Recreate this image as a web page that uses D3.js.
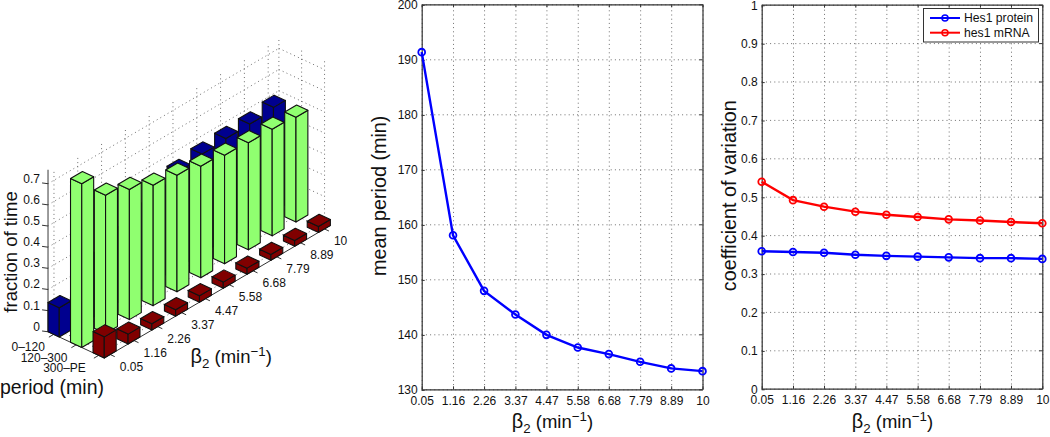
<!DOCTYPE html>
<html><head><meta charset="utf-8">
<script src="https://cdnjs.cloudflare.com/ajax/libs/d3/7.8.5/d3.min.js"></script>
<style>
html,body{margin:0;padding:0;background:#fff}
svg{display:block}
text{font-family:"Liberation Sans",Arial,sans-serif;fill:#111}
</style></head><body>
<svg id="c" width="1050" height="437"></svg>
<script>
// ---- data ----
const betaLabels = ["0.05","1.16","2.26","3.37","4.47","5.58","6.68","7.79","8.89","10"];
const periodLabels = ["0–120","120–300","300–PE"];
const blueFraction = [0.138,0.300,0.355,0.400,0.420,0.453,0.469,0.477,0.479,0.492];
const greenFraction = [0.774,0.654,0.615,0.569,0.551,0.527,0.513,0.506,0.504,0.495];
const redFraction = [0.100,0.047,0.030,0.030,0.030,0.029,0.029,0.028,0.028,0.028];
const fractionTicks = [0,0.1,0.2,0.3,0.4,0.5,0.6,0.7];
const meanPeriod = [191.3,158.0,147.9,143.6,139.9,137.6,136.4,135.0,133.8,133.3];
const periodTicks = [130,140,150,160,170,180,190,200];
const cvProtein = [0.358,0.356,0.354,0.349,0.346,0.344,0.342,0.340,0.340,0.338];
const cvMrna = [0.539,0.491,0.474,0.461,0.453,0.447,0.441,0.438,0.434,0.431];
const cvTicks = [0,0.1,0.2,0.3,0.4,0.5,0.6,0.7,0.8,0.9,1];
const barSeries = [blueFraction,greenFraction,redFraction];
const barColors = ["#00008f","#90ff70","#800000"];
const seriesNames = ["Hes1 protein","hes1 mRNA"];

const svg = d3.select("#c");
const AXIS="#333", DOT="#6e6e6e";

function betaLabel(g,x,y,size){
  const t=g.append("text").attr("x",x).attr("y",y).attr("font-size",size);
  t.append("tspan").attr("font-size",size*1.08).text("β");
  t.append("tspan").attr("font-size",size*0.72).attr("dy",size*0.28).text("2");
  t.append("tspan").attr("dy",-size*0.28).text(" (min");
  t.append("tspan").attr("font-size",size*0.72).attr("dy",-size*0.36).text("−1");
  t.append("tspan").attr("dy",size*0.36).text(")");
}

// ---- 3D bars panel ----
const hw = 0.25;                                    // half bar width
const iX = d3.scaleLinear().domain([0,9]).range([59.6,273.8]);
const iY = d3.scaleLinear().domain([0,9]).range([330.9,205.3]);
const jX = d3.scaleLinear().domain([0,2]).range([0,45]);
const jY = d3.scaleLinear().domain([0,2]).range([0,21]);
const zH = d3.scaleLinear().domain([0,1]).range([0,211.5]);
const P = (i,j,z=0)=>[iX(i)+jX(j), iY(i)+jY(j)-zH(z)];
const line = d3.line();
const p3 = svg.append("g");

const iLo=-hw, iBack=9.45, iFront=9.25, jLo=-hw, jHi=2+hw, jWallHi=1.78, zTop=0.74;
const wallJ=[jLo,0.76,jWallHi];
const grid3 = p3.append("g").attr("fill","none").attr("stroke",DOT).attr("stroke-width",1).attr("stroke-dasharray","1 3.2");
const seg=(g,a,b)=>g.append("path").attr("d",line([a,b]));
fractionTicks.forEach(z=>{
  if(z>0){
    seg(grid3,P(iLo,jLo,z),P(iBack,jLo,z));
    seg(grid3,P(iBack,jLo,z),P(iBack,jWallHi,z));
  }
});
betaLabels.forEach((_,i)=>{
  seg(grid3,P(i,jLo,0),P(i,jLo,zTop));
  seg(grid3,P(i,jLo,0),P(i,jHi,0));
});
wallJ.forEach(j=>seg(grid3,P(iBack,j,0),P(iBack,j,zTop)));
periodLabels.forEach((_,j)=>seg(grid3,P(iLo,j,0),P(iBack,j,0)));

// axes of the box
const ax3 = p3.append("g").attr("fill","none").attr("stroke",AXIS).attr("stroke-width",1);
ax3.append("path").attr("d",line([P(iLo,jLo,0),P(iLo,jLo,0.766)])).attr("stroke","#666").attr("stroke-width",1.3);
ax3.append("path").attr("d",line([P(iLo,jLo,0),P(iLo,jHi,0)]));
ax3.append("path").attr("d",line([P(iLo,jHi,0),P(iFront,jHi,0)]));
fractionTicks.forEach(z=>{
  ax3.append("path").attr("d",line([P(iLo,jLo,z),P(iLo-0.08,jLo-0.18,z)]));
});
betaLabels.forEach((_,i)=>ax3.append("path").attr("d",line([P(i,jHi,0),P(i,jHi+0.2,0)])));
periodLabels.forEach((_,j)=>ax3.append("path").attr("d",line([P(iLo,j,0),P(iLo-0.2,j,0)])));

// bars, painted back to front
const bars=[];
barSeries.forEach((vals,j)=>vals.forEach((v,i)=>bars.push({i,j,v})));
bars.sort((a,b)=>P(a.i,a.j)[1]-P(b.i,b.j)[1]);
const bg=p3.append("g").attr("stroke","#111").attr("stroke-width",1.1).attr("stroke-linejoin","round");
bars.forEach(b=>{
  const {i,j,v}=b, c=barColors[j];
  const poly=pts=>bg.append("path").attr("d",line(pts)+"Z").attr("fill",c);
  const a=[i-hw,j+hw], d=[i+hw,j+hw], l=[i-hw,j-hw], r=[i+hw,j-hw];
  poly([P(...l,0),P(...a,0),P(...a,v),P(...l,v)]);
  poly([P(...a,0),P(...d,0),P(...d,v),P(...a,v)]);
  poly([P(...a,v),P(...d,v),P(...r,v),P(...l,v)]);
});

// 3D labels
const lab3=p3.append("g").attr("font-size",12);
fractionTicks.forEach(z=>{
  const q=P(iLo,jLo,z);
  lab3.append("text").attr("x",q[0]-8).attr("y",q[1]-1).attr("text-anchor","end").text(z);
});
betaLabels.forEach((t,i)=>{
  const q=P(i,jHi,0);
  lab3.append("text").attr("x",q[0]+9.5).attr("y",q[1]+16.5).text(t);
});
periodLabels.forEach((t,j)=>{
  const q=P(iLo-0.2,j,0);
  lab3.append("text").attr("x",q[0]-(j==2?8:4)).attr("y",q[1]+14).attr("text-anchor","end").text(t);
});
p3.append("text").attr("font-size",18.5).attr("transform","translate(16.5,252) rotate(-90)").attr("text-anchor","middle").text("fraction of time");
p3.append("text").attr("font-size",19.5).attr("x",0).attr("y",394).text("period (min)");
betaLabel(p3,190.5,362.5,18.5);

// ---- 2D panels ----
const betaVal = betaLabels.map(Number);
function panel(x0,x1,y0,y1,dom,ticks,fmt,labelText,labelX){
  const g=svg.append("g");
  const x=d3.scaleLinear().domain([0.05,10]).range([x0,x1]);
  const y=d3.scaleLinear().domain(dom).range([y0,y1]);
  const W=x1-x0,H=y0-y1;
  const gx=g.append("g").attr("transform",`translate(0,${y0})`).call(d3.axisBottom(x).tickValues(betaVal).tickFormat("").tickSize(-H));
  const gy=g.append("g").attr("transform",`translate(${x0},0)`).call(d3.axisLeft(y).tickValues(ticks).tickFormat("").tickSize(-W));
  [gx,gy].forEach(s=>{s.select(".domain").remove();s.selectAll("line").attr("stroke",DOT).attr("stroke-width",1).attr("stroke-dasharray","1 3.2");});
  const style=s=>{s.selectAll("path.domain").attr("stroke",AXIS).attr("stroke-width",1.2);s.selectAll("line").attr("stroke",AXIS).attr("stroke-width",1);};
  g.append("g").attr("transform",`translate(0,${y1})`).call(d3.axisTop(x).tickValues(betaVal).tickFormat("").tickSizeInner(-3).tickSizeOuter(0)).call(style);
  g.append("g").attr("transform",`translate(${x1},0)`).call(d3.axisRight(y).tickValues(ticks).tickFormat("").tickSizeInner(-3).tickSizeOuter(0)).call(style);
  const bx=g.append("g").attr("transform",`translate(0,${y0})`).call(d3.axisBottom(x).tickValues(betaVal).tickFormat((d,i)=>betaLabels[i]).tickSizeInner(-3).tickSizeOuter(0).tickPadding(7)).call(style);
  const by=g.append("g").attr("transform",`translate(${x0},0.6)`).call(d3.axisLeft(y).tickValues(ticks).tickFormat(fmt).tickSizeInner(-3).tickSizeOuter(0).tickPadding(4)).call(style);
  [bx,by].forEach(s=>s.selectAll("text").attr("font-size",12).attr("font-family",'"Liberation Sans",Arial,sans-serif').attr("fill","#111"));
  g.append("text").attr("font-size",19.8).attr("text-anchor","middle").attr("transform",`translate(${labelX},${(y0+y1)/2-1}) rotate(-90)`).text(labelText);
  betaLabel(g,x0+90,428,18.5);
  return {g,x,y};
}
function series(pn,vals,color){
  const l=d3.line().x((d,i)=>pn.x(betaVal[i])).y(d=>pn.y(d));
  pn.g.append("path").attr("d",l(vals)).attr("fill","none").attr("stroke",color).attr("stroke-width",2.4);
  pn.g.selectAll(null).data(vals).enter().append("circle")
    .attr("cx",(d,i)=>pn.x(betaVal[i])).attr("cy",d=>pn.y(d)).attr("r",3.4)
    .attr("fill","none").attr("stroke",color).attr("stroke-width",1.8);
}
const mid=panel(421.7,702.5,389.3,4.3,[130,200],periodTicks,d=>d,"mean period (min)",386);
series(mid,meanPeriod,"#0000ff");
const rgt=panel(761.7,1042.3,388.7,4.7,[0,1],cvTicks,d=>d,"coefficient of variation",736);
series(rgt,cvProtein,"#0000ff");
series(rgt,cvMrna,"#ff0000");

// legend
const lg=svg.append("g");
lg.append("rect").attr("x",923.5).attr("y",8.5).attr("width",115).attr("height",33.5).attr("fill","#fff").attr("stroke",AXIS).attr("stroke-width",1);
seriesNames.forEach((n,k)=>{
  const yy=18+k*14.7, c=k?"#ff0000":"#0000ff";
  lg.append("line").attr("x1",930).attr("x2",960).attr("y1",yy).attr("y2",yy).attr("stroke",c).attr("stroke-width",2);
  lg.append("circle").attr("cx",945).attr("cy",yy).attr("r",3).attr("fill","none").attr("stroke",c).attr("stroke-width",1.5);
  lg.append("text").attr("x",964).attr("y",yy+4.2).attr("font-size",12.2).text(n);
});
</script>
</body></html>
